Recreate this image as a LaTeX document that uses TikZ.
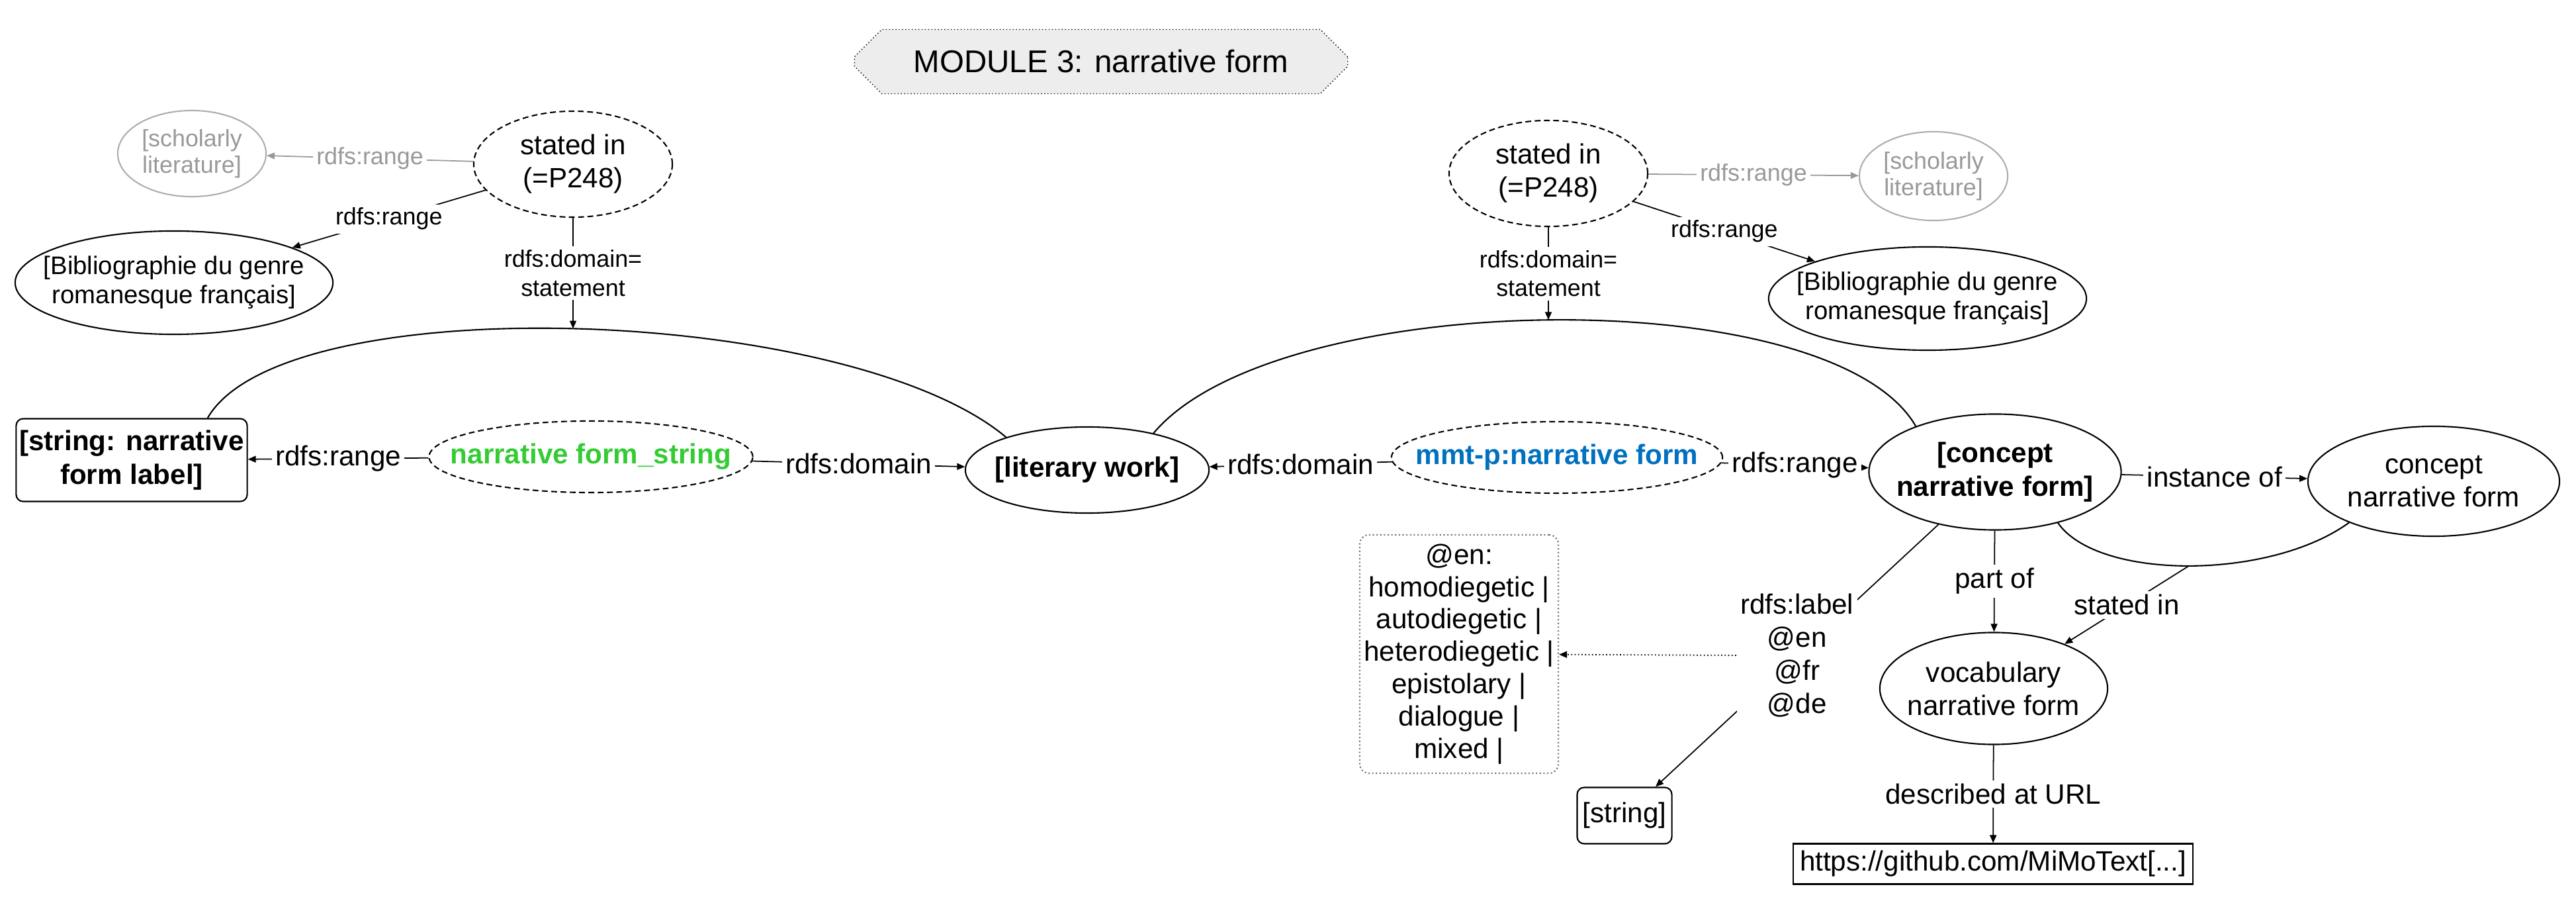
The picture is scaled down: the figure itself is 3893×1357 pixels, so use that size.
\documentclass[tikz,border=0pt]{standalone}
\usepackage{fontspec}
\setmainfont{Liberation Sans}
\usetikzlibrary{positioning,arrows.meta,calc,shapes.geometric,shapes.misc}
\definecolor{propgreen}{HTML}{33CC33}
\definecolor{propblue}{HTML}{0070C0}
\definecolor{ghostgray}{HTML}{999999}

\begin{document}
\begin{tikzpicture}[x=0.01cm, y=0.01cm,
  every node/.style={font=\fontsize{12}{14.2}\selectfont, align=center, inner sep=0pt},
  cls/.style={ellipse, draw=black, line width=0.6pt, inner xsep=-1cm, inner ysep=-0.5cm},
  prop/.style={cls, dash pattern=on 2.5pt off 1.5pt},
  ghost/.style={cls, draw=ghostgray!80, text=ghostgray, font=\fontsize{10.2}{11.4}\selectfont},
  lit/.style={draw=black, line width=0.6pt, rounded corners=3pt},
  bold/.style={font=\fontsize{12}{14.4}\selectfont\bfseries},
  lbl/.style={fill=white, inner sep=1.5pt},
  slbl/.style={lbl, font=\fontsize{10.2}{12.5}\selectfont},
  glbl/.style={slbl, text=ghostgray},
  arr/.style={-{Triangle[length=1.2mm, width=1mm]}, line width=0.5pt},
  garr/.style={arr, draw=ghostgray},
  arc/.style={line width=0.6pt},
  modbox/.style={chamfered rectangle, chamfered rectangle xsep=2.19cm,
    chamfered rectangle ysep=0.24cm, draw, densely dotted, fill=black!7,
    minimum width=7.45cm, minimum height=0.97cm, font=\fontsize{13.5}{16}\selectfont}]
\useasboundingbox (0,0) rectangle (3893,1357);

% title
\node[modbox] (module) at (1664,1264) {MODULE 3: narrative form};

% statements on the left
\node[prop, minimum width=3cm, minimum height=1.6cm] (stL) at (866,1109) {stated in\\(=P248)};
\node[ghost, minimum width=2.24cm, minimum height=1.3cm] (schL) at (290,1125) {[scholarly\\literature]};
\node[cls, minimum width=4.8cm, minimum height=1.56cm, font=\fontsize{10.9}{12.6}\selectfont]
  (bibL) at (263,930) {[Bibliographie du genre\\romanesque français]};

% statements on the right
\node[prop, minimum width=3cm, minimum height=1.6cm] (stR) at (2340,1095) {stated in\\(=P248)};
\node[ghost, minimum width=2.24cm, minimum height=1.34cm] (schR) at (2922,1091) {[scholarly\\literature]};
\node[cls, minimum width=4.8cm, minimum height=1.56cm, font=\fontsize{10.9}{12.6}\selectfont]
  (bibR) at (2913,906) {[Bibliographie du genre\\romanesque français]};

% main row
\node[lit, bold, minimum width=3.49cm, minimum height=1.25cm] (strBox) at (199,662) {[string: narrative\\form label]};
\node[prop, bold, text=propgreen, minimum width=4.89cm, minimum height=1.08cm] (strProp) at (893,667) {narrative form\_string};
\node[cls, bold, minimum width=3.68cm, minimum height=1.3cm] (work) at (1643,647) {[literary work]};
\node[prop, bold, text=propblue, minimum width=5cm, minimum height=1.08cm] (nfProp) at (2353,666) {mmt-p:narrative form};
\node[cls, bold, minimum width=3.81cm, minimum height=1.75cm] (concept) at (3015,644) {[concept\\narrative form]};
\node[cls, minimum width=3.8cm, minimum height=1.66cm] (conc2) at (3678,630) {concept\\narrative form};

% lower part
\node[cls, minimum width=3.44cm, minimum height=1.69cm] (vocab) at (3013,317) {vocabulary\\narrative form};
\node[draw, line width=0.6pt, minimum width=6.04cm, minimum height=0.61cm] (url) at (3012,52) {https://github.com/MiMoText[...]};
\node[lit, draw=black!55, densely dotted, rounded corners=4pt, minimum width=3cm, minimum height=3.6cm,
  font=\fontsize{12}{13.9}\selectfont] (vals) at (2205,369)
  {@en:\\homodiegetic |\\autodiegetic |\\heterodiegetic |\\epistolary |\\dialogue |\\mixed |};
\node[lit, minimum width=1.43cm, minimum height=0.85cm] (strLit) at (2455,125) {[string]};

% edges of the statements
\draw[garr] (stL) -- node[glbl] {rdfs:range} (schL);
\draw[arr] (stL) -- node[slbl] {rdfs:range} (bibL);
\draw[garr] (stR) -- node[glbl] {rdfs:range} (schR);
\draw[arr] (stR) -- node[slbl] {rdfs:range} (bibR);

% statement arcs
\draw[arc] (strBox.29) .. controls +(60:230) and +(140:310) .. (work.158) coordinate[pos=0.5] (stmtL);
\draw[arc] (work.29) .. controls +(50:288) and +(120:256) .. (concept.150) coordinate[pos=0.5] (stmtR);
\draw[arr] (stL) -- node[slbl] {rdfs:domain=\\statement} (stL |- stmtL);
\draw[arr] (stR) -- node[slbl] {rdfs:domain=\\statement} (stR |- stmtR);

% main row edges
\draw[arr] (strProp) -- node[lbl] {rdfs:range} (strBox);
\draw[arr] (strProp) -- node[lbl] {rdfs:domain} (work);
\draw[arr] (nfProp) -- node[lbl] {rdfs:domain} (work);
\draw[arr] (nfProp) -- node[lbl] {rdfs:range} (concept);
\draw[arr] (concept) -- node[lbl] {instance of} (conc2);

% concept edges
\draw[arc] (concept.-39) .. controls +(-55:106) and +(-144:148) .. (conc2.206) coordinate[pos=0.5] (stmtC);
\draw[arr] (stmtC) -- node[lbl] {stated in} (vocab);
\draw[arr] (concept) -- node[lbl] {part of} (vocab);
\draw[arr] (vocab) -- node[lbl] {described at URL} (url);
\draw[arr] (concept) -- node[lbl, font=\fontsize{12}{14.2}\selectfont] (langs) {rdfs:label\\@en\\@fr\\@de} (strLit);
\draw[arr, densely dotted] (langs) -- (vals);
\end{tikzpicture}
\end{document}
